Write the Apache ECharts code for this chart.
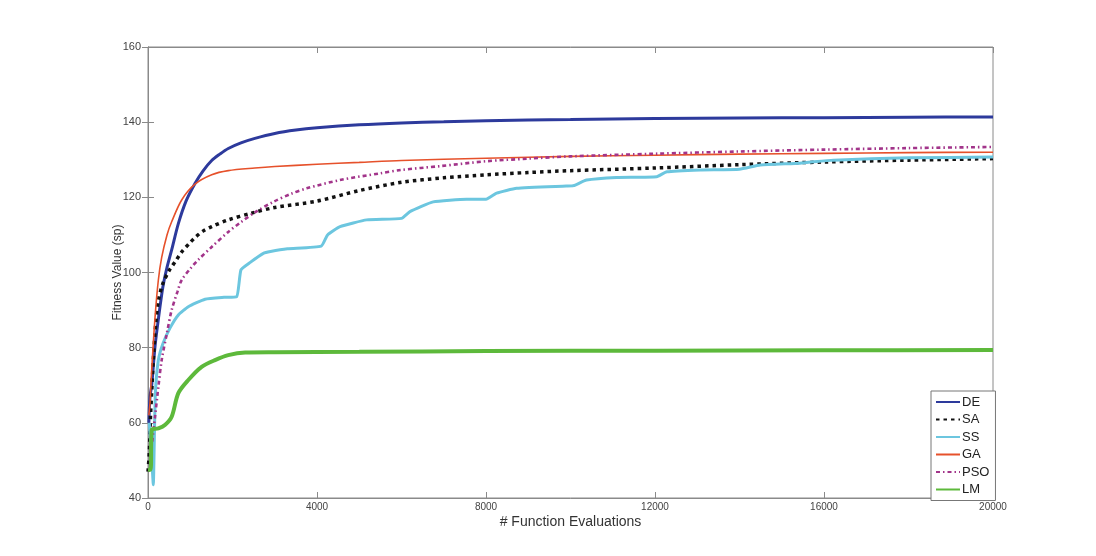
<!DOCTYPE html>
<html>
<head>
<meta charset="utf-8">
<script src="https://cdn.jsdelivr.net/npm/echarts@6/dist/echarts.min.js"></script>
<style>html,body{margin:0;padding:0;background:#fff}#c{width:1096px;height:556px}</style>
</head>
<body>
<div id="c"></div>
<script>
const xTicks = [0, 4000, 8000, 12000, 16000, 20000];
const yTicks = [40, 60, 80, 100, 120, 140, 160];
const seriesNames = ['DE', 'SA', 'SS', 'GA', 'PSO', 'LM'];

const DE = [[20,60],[47,67],[87,70],[166,80.3],[250,88],[350,96],[442,101],[560,106],[718,113],[900,119],[1112,123.7],[1300,127],[1508,129.8],[1700,131.5],[1900,133],[2200,134.5],[2530,135.7],[3000,137],[3500,137.9],[4000,138.5],[5000,139.3],[6000,139.8],[7000,140.1],[8000,140.4],[10000,140.7],[12000,141],[14000,141.1],[16000,141.2],[18000,141.3],[20000,141.4]];
const SA = [[0,47],[30,52],[60,62],[87,68],[126,76.7],[180,86],[245,92.5],[350,97],[500,100.5],[640,102.8],[800,105.5],[1000,108],[1112,109.3],[1300,111],[1508,112.2],[1900,114],[2450,115.8],[3000,117.3],[4000,119],[5000,121.8],[6000,124],[7000,125.2],[8000,126],[9000,126.6],[10000,127.1],[12000,127.8],[14000,128.7],[16000,129.4],[18000,129.9],[20000,130.3]];
const SS = [[30,60],[80,52],[126,43.5],[150,56],[175,68],[245,76.7],[350,81],[520,85.2],[718,88.7],[954,90.9],[1350,92.9],[1800,93.4],[2100,93.6],[2200,100.7],[2420,102.7],[2730,105.1],[2900,105.6],[3300,106.3],[4100,107],[4250,110],[4545,112.2],[5176,114],[6000,114.4],[6200,116.2],[6750,118.8],[7540,119.5],[8000,119.5],[8250,121.1],[8725,122.4],[9900,123],[10070,123.1],[10380,124.6],[11090,125.3],[12040,125.5],[12280,126.8],[13070,127.3],[14000,127.5],[14490,128.6],[15430,129.1],[16220,129.9],[18000,130.5],[20000,130.7]];
const GA = [[20,62],[47,65.3],[87,74],[166,88],[245,98],[324,104],[450,110],[560,113.5],[797,119.3],[1112,123.5],[1508,126],[1900,127.1],[2530,127.8],[3000,128.2],[4000,128.8],[5000,129.3],[6000,129.8],[8000,130.4],[10000,130.9],[12000,131.2],[14000,131.5],[16000,131.7],[18000,131.9],[20000,132]];
const PSO = [[100,55],[166,61.6],[250,70],[324,76.7],[450,84],[560,90],[700,95],[797,98],[1000,101],[1200,103.5],[1508,106.8],[1900,110.8],[2200,113.4],[2530,116],[2966,118.8],[3400,121],[3755,122.4],[4545,124.6],[5500,126.4],[6000,127.3],[6910,128.3],[8000,129.6],[9000,130.3],[10000,130.9],[12000,131.6],[14000,132.2],[16000,132.7],[18000,133.1],[20000,133.4]];
const LM = [[0,47.5],[60,47.5],[87,58.1],[245,58.5],[400,59.4],[560,61.6],[718,67.9],[954,71.4],[1270,74.9],[1586,76.7],[1900,78],[2300,78.7],[3000,78.8],[5000,78.9],[8000,79.1],[12000,79.2],[16000,79.3],[20000,79.4]];

const chart = echarts.init(document.getElementById('c'));
const font = '"Liberation Sans", Arial, sans-serif';
const axisGrey = '#8a8a8a';
const labelColor = '#444';

function mk(name, data, color, width, type, smooth) {
  return {
    name, type: 'line', data, symbol: 'none', smooth: smooth,
    lineStyle: { color, width, type: type || 'solid' }, itemStyle: { color },
    xAxisIndex: 0, yAxisIndex: 0, z: 3
  };
}

chart.setOption({
  animation: false,
  backgroundColor: '#fff',
  grid: { left: 148, right: 103, top: 47, bottom: 58, show: true, borderColor: axisGrey, borderWidth: 1, backgroundColor: 'transparent' },
  xAxis: [{
    type: 'value', min: xTicks[0], max: xTicks[xTicks.length - 1], interval: 4000,
    name: '# Function Evaluations', nameLocation: 'middle', nameGap: 17, nameMoveOverlap: false,
    nameTextStyle: { fontFamily: font, fontSize: 14, color: '#333' },
    axisLine: { lineStyle: { color: axisGrey } },
    axisTick: { inside: true, length: 6, lineStyle: { color: axisGrey } },
    axisLabel: { fontFamily: font, fontSize: 10, color: labelColor, margin: 4, formatter: v => String(v) },
    splitLine: { show: false }
  }, {
    type: 'value', position: 'top', min: xTicks[0], max: xTicks[xTicks.length - 1], interval: 4000,
    axisLine: { lineStyle: { color: axisGrey } },
    axisTick: { inside: true, length: 6, lineStyle: { color: axisGrey } },
    axisLabel: { show: false }, splitLine: { show: false }
  }],
  yAxis: [{
    type: 'value', min: yTicks[0], max: yTicks[yTicks.length - 1], interval: 20,
    name: 'Fitness Value (sp)', nameLocation: 'middle', nameGap: 24, nameMoveOverlap: false,
    nameTextStyle: { fontFamily: font, fontSize: 12, color: '#333' },
    axisLine: { show: true, lineStyle: { color: axisGrey } },
    axisTick: { show: true, inside: true, length: 6, lineStyle: { color: axisGrey } },
    axisLabel: { fontFamily: font, fontSize: 11, color: labelColor, margin: 7, formatter: v => String(v) },
    splitLine: { show: false }
  }, {
    type: 'value', position: 'right', min: yTicks[0], max: yTicks[yTicks.length - 1], interval: 20,
    axisLine: { show: true, lineStyle: { color: axisGrey } },
    axisTick: { show: true, inside: true, length: 6, lineStyle: { color: axisGrey } },
    axisLabel: { show: false }, splitLine: { show: false }
  }],
  legend: {
    data: seriesNames, orient: 'vertical', left: 931, top: 391,
    backgroundColor: '#fff', borderColor: '#777', borderWidth: 1,
    padding: [4, 6, 4, 4], itemGap: 3.5, itemWidth: 24, itemHeight: 12,
    itemStyle: { opacity: 0 },
    textStyle: { fontFamily: font, fontSize: 13, color: '#222', lineHeight: 14, padding: [0, 0, 0, -3] }
  },
  series: [
    mk('DE', DE, '#2d3a9c', 3, 'solid', 0.3),
    mk('SA', SA, '#111111', 3.5, [3.5, 4], 0.3),
    mk('SS', SS, '#6cc6df', 3, 'solid', 0.15),
    mk('GA', GA, '#e6512b', 1.6, 'solid', 0.3),
    mk('PSO', PSO, '#a2348a', 2.6, [4, 3, 1.5, 3], 0.3),
    mk('LM', LM, '#5db93b', 4, 'solid', 0.3)
  ]
});
</script>
</body>
</html>
